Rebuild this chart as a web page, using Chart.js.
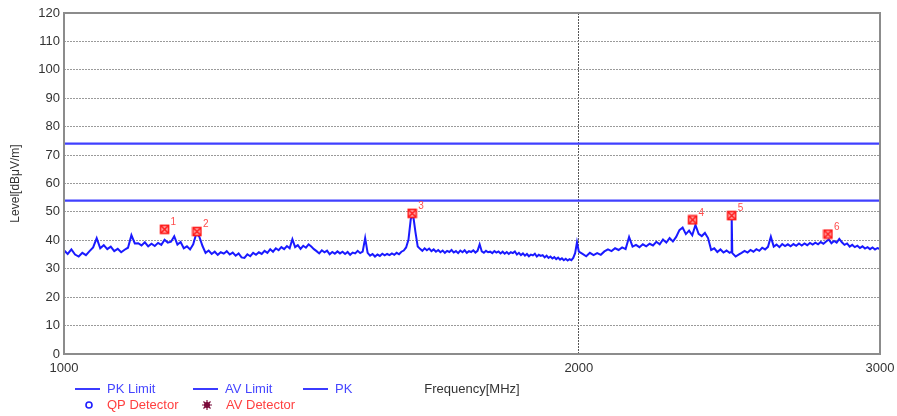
<!DOCTYPE html>
<html lang="en">
<head>
  <meta charset="UTF-8">
  <title>Radiated emission 1-3 GHz</title>
  <script src="https://cdn.jsdelivr.net/npm/chart.js"></script>
  <style>
    body {
      margin: 0;
      padding: 0;
      background-color: #ffffff;
    }

    .wrap {
      width: 897px;
      height: 416px;
      position: relative;
    }
  </style>
</head>
<body>

  <div class="wrap">
    <canvas id="grafico"></canvas>
  </div>

  <script>
    // sweep frequencies (MHz) and peak level (dBuV/m)
    const freqMHz = [
      1000,1005,1010,1015,1020,1025,1030,1035,1040,1045,1050,
      1055,1060,1065,1070,1075,1080,1085,1090,1095,1100,
      1105,1110,1115,1120,1125,1130,1135,1140,1145,1150,
      1155,1160,1165,1170,1175,1180,1185,1190,1195,1200,
      1205,1210,1215,1220,1225,1230,1235,1240,1245,1250,
      1255,1260,1265,1270,1275,1280,1285,1290,1295,1300,
      1305,1310,1315,1320,1325,1330,1335,1340,1345,1350,
      1355,1360,1365,1370,1375,1380,1385,1390,1395,1400,
      1405,1410,1415,1420,1425,1430,1435,1440,1445,1450,
      1455,1460,1465,1470,1475,1480,1485,1490,1495,1500,
      1505,1510,1515,1520,1525,1530,1535,1540,1545,1550,
      1555,1560,1565,1570,1575,1580,1585,1590,1595,1600,
      1605,1610,1615,1620,1625,1630,1635,1640,1645,1650,
      1655,1660,1665,1670,1675,1680,1685,1690,1695,1700,
      1705,1710,1715,1720,1725,1730,1735,1740,1745,1750,
      1755,1760,1765,1770,1775,1780,1785,1790,1795,1800,
      1805,1810,1815,1820,1825,1830,1835,1840,1845,1850,
      1855,1860,1865,1870,1875,1880,1885,1890,1895,1900,
      1905,1910,1915,1920,1925,1930,1935,1940,1945,1950,
      1955,1960,1965,1970,1975,1980,1985,1990,1995,2000,
      2010,2020,2030,2040,2050,2060,2070,2080,2090,2100,
      2110,2120,2130,2140,2150,2160,2170,2180,2190,2200,
      2210,2220,2230,2240,2250,2260,2270,2280,2290,2300,
      2310,2320,2330,2340,2350,2360,2370,2380,2390,2400,
      2410,2420,2430,2440,2450,2455,2457,2459,
      2470,2480,2490,2500,2510,2520,2530,2540,2550,2560,
      2570,2580,2590,2600,2610,2620,2630,2640,2650,2660,
      2670,2680,2690,2700,2710,2720,2730,2740,2750,2760,
      2770,2780,2790,2800,2810,2820,2830,2840,2850,2860,
      2870,2880,2890,2900,2910,2920,2930,2940,2950,2960,
      2970,2980,2990,3000
    ];

    const pkLevel = [
      36.5,35.2,36.8,35.0,34.3,35.6,34.8,36.2,37.5,40.8,37.2,
      38.3,36.9,37.8,36.2,37.0,35.8,36.7,37.4,41.8,38.9,
      39.0,38.2,39.3,37.9,38.8,38.0,39.1,38.4,40.2,39.2,
      39.5,41.4,38.5,39.4,37.2,37.9,36.8,38.6,42.4,41.2,
      38.0,35.6,36.4,35.2,36.0,34.9,35.8,35.3,36.2,35.0,
      35.7,34.6,35.4,34.0,33.8,35.1,34.4,35.6,34.9,35.8,
      35.2,36.3,35.6,36.9,36.0,37.2,36.5,37.6,36.9,38.0,
      37.2,40.4,37.6,38.3,37.0,38.1,37.4,38.6,37.8,36.9,
      36.2,35.4,36.5,35.8,36.4,35.1,35.9,35.3,36.1,35.4,
      36.0,35.2,35.9,34.9,35.7,35.4,36.3,35.5,36.0,40.8,
      35.6,34.6,35.2,34.3,35.0,34.5,35.3,34.7,35.2,34.8,
      35.4,34.9,35.6,35.1,36.0,36.4,37.5,40.2,47.5,49.0,
      43.0,37.8,37.0,36.3,37.2,36.5,37.1,36.2,36.8,36.0,
      36.6,35.8,36.4,35.6,36.3,35.9,36.6,35.7,36.2,35.5,
      36.4,35.8,36.5,35.6,36.2,35.9,36.5,35.7,36.3,38.6,
      36.1,35.6,36.3,35.8,36.0,35.5,36.2,35.7,36.1,35.4,
      36.0,35.3,35.9,35.2,35.8,35.5,36.1,35.0,35.6,34.8,
      35.4,34.6,35.2,34.4,35.0,34.7,35.3,34.3,34.9,34.5,
      34.8,34.0,34.6,33.8,34.3,33.6,34.1,33.4,33.9,33.2,
      33.7,33.0,33.5,32.9,33.4,33.0,33.8,35.5,39.3,36.0,
      35.2,34.4,35.6,34.8,35.5,34.9,36.1,36.8,36.2,37.2,
      36.6,37.5,36.9,41.2,37.8,38.4,37.6,38.6,37.9,38.8,
      38.2,39.5,38.6,40.3,39.2,40.8,39.6,41.2,43.6,44.5,
      42.2,43.4,41.8,45.4,42.3,41.5,42.6,40.8,36.6,37.2,
      35.9,36.8,35.7,36.4,35.6,35.9,48.4,35.5,
      34.3,35.0,35.6,36.3,35.7,36.6,36.0,36.9,36.3,37.4,
      36.8,37.7,41.3,37.8,38.5,37.6,38.7,38.0,38.6,37.9,
      38.7,38.1,38.9,38.2,38.9,38.3,39.1,38.5,39.2,38.6,
      39.4,38.8,39.6,40.3,39.0,39.8,39.2,40.5,39.3,38.4,
      38.9,37.8,38.4,37.6,38.1,37.3,37.9,37.1,37.6,36.9,
      37.5,36.8,37.3,36.9
    ];

    const limitFreq = [1000, 3000];
    const pkLimit = [74, 74];
    const avLimit = [54, 54];

    // final measurement points
    const markerFreq = [1145, 1196, 1598, 2331, 2457, 2797];
    const markerLevel = [43.9, 43.1, 49.5, 47.2, 48.7, 42.2];
    const markerLabel = ["1", "2", "3", "4", "5", "6"];

    const xTicks = [1000, 2000, 3000];
    const yMin = 0, yMax = 120, yStep = 10;

    const fonte = "'Liberation Sans', Arial, sans-serif";

    // little red box with a cross, like the receiver software draws
    const marca = document.createElement("canvas");
    marca.width = 11;
    marca.height = 11;
    (function () {
      const c = marca.getContext("2d");
      c.fillStyle = "#ffb3b3";
      c.fillRect(1, 1, 9, 9);
      c.strokeStyle = "#ff1a1a";
      c.lineWidth = 1.6;
      c.strokeRect(1.5, 1.5, 8, 8);
      c.beginPath();
      c.moveTo(2, 2); c.lineTo(9, 9);
      c.moveTo(9, 2); c.lineTo(2, 9);
      c.stroke();
    })();

    const pares = (xs, ys) => xs.map((x, i) => ({ x: x, y: ys[i] }));

    const extras = {
      id: "extras",
      afterDraw(chart) {
        const ctx = chart.ctx;
        const a = chart.chartArea;
        const sx = chart.scales.x, sy = chart.scales.y;
        ctx.save();

        // frame
        ctx.strokeStyle = "#8c8c8c";
        ctx.lineWidth = 2;
        ctx.strokeRect(a.left, a.top, a.right - a.left, a.bottom - a.top);

        // marker numbers
        ctx.fillStyle = "#ff4d4d";
        ctx.font = "10px " + fonte;
        ctx.textAlign = "left";
        ctx.textBaseline = "middle";
        markerFreq.forEach((f, i) => {
          ctx.fillText(markerLabel[i], sx.getPixelForValue(f) + 6, sy.getPixelForValue(markerLevel[i]) - 7);
        });

        // axis titles
        ctx.fillStyle = "#333";
        ctx.font = "13px " + fonte;
        ctx.textAlign = "center";
        ctx.fillText("Frequency[MHz]", (a.left + a.right) / 2, 389);

        ctx.save();
        ctx.translate(16, (a.top + a.bottom) / 2);
        ctx.rotate(-Math.PI / 2);
        ctx.font = "12px " + fonte;
        ctx.fillText("Level[dBμV/m]", 0, 0);
        ctx.restore();

        // legend, first row
        ctx.textAlign = "left";
        ctx.font = "13px " + fonte;
        ctx.strokeStyle = "#3b3bff";
        ctx.lineWidth = 2;
        [[75, "PK Limit"], [193, "AV Limit"], [303, "PK"]].forEach(([x, t]) => {
          ctx.beginPath();
          ctx.moveTo(x, 389);
          ctx.lineTo(x + 25, 389);
          ctx.stroke();
          ctx.fillStyle = "#4646ff";
          ctx.fillText(t, x + 32, 389);
        });

        // legend, second row
        ctx.strokeStyle = "#1f1fff";
        ctx.lineWidth = 1.6;
        ctx.beginPath();
        ctx.arc(89, 405, 3, 0, Math.PI * 2);
        ctx.stroke();
        ctx.fillStyle = "#ff4040";
        ctx.fillText("QP Detector", 107, 405);

        ctx.fillStyle = "#7a0a3a";
        ctx.strokeStyle = "#7a0a3a";
        ctx.lineWidth = 1.2;
        ctx.beginPath();
        ctx.arc(207, 405, 3, 0, Math.PI * 2);
        ctx.fill();
        ctx.beginPath();
        for (let k = 0; k < 8; k++) {
          const ang = k * Math.PI / 4;
          ctx.moveTo(207, 405);
          ctx.lineTo(207 + 5 * Math.cos(ang), 405 + 5 * Math.sin(ang));
        }
        ctx.stroke();
        ctx.fillStyle = "#ff4040";
        ctx.fillText("AV Detector", 226, 405);

        ctx.restore();
      }
    };

    new Chart(document.getElementById("grafico"), {
      type: "line",
      data: {
        datasets: [
          {
            label: "AV Detector",
            data: pares(markerFreq, markerLevel),
            showLine: false,
            pointStyle: marca,
            pointRadius: 5,
            order: 0
          },
          {
            label: "PK Limit",
            data: pares(limitFreq, pkLimit),
            borderColor: "#4040ff",
            borderWidth: 2.2,
            pointRadius: 0,
            order: 2
          },
          {
            label: "AV Limit",
            data: pares(limitFreq, avLimit),
            borderColor: "#4040ff",
            borderWidth: 2.2,
            pointRadius: 0,
            order: 2
          },
          {
            label: "PK",
            data: pares(freqMHz, pkLevel),
            borderColor: "#1a1aff",
            borderWidth: 2,
            pointRadius: 0,
            tension: 0,
            order: 1
          }
        ]
      },
      options: {
        responsive: true,
        maintainAspectRatio: false,
        animation: false,
        layout: { padding: { top: 13, right: 17, left: 0, bottom: 0 } },
        plugins: {
          legend: { display: false },
          tooltip: { enabled: false }
        },
        scales: {
          x: {
            type: "logarithmic",
            min: 1000,
            max: 3000,
            afterBuildTicks: s => { s.ticks = xTicks.map(v => ({ value: v })); },
            afterFit: s => {
              s.height = 62;
              s.paddingLeft = 0;
              s.paddingRight = 0;
            },
            ticks: {
              autoSkip: false,
              maxRotation: 0,
              padding: 7,
              color: "#333",
              font: { family: fonte, size: 13 },
              callback: v => String(v)
            },
            grid: {
              drawTicks: false,
              color: c => (c.tick && c.tick.value === 2000) ? "#555" : "rgba(0,0,0,0)",
              lineWidth: 1
            },
            border: { display: false, dash: [2, 1] }
          },
          y: {
            min: yMin,
            max: yMax,
            afterFit: s => { s.width = 64; },
            ticks: {
              stepSize: yStep,
              padding: 4,
              color: "#333",
              font: { family: fonte, size: 13 }
            },
            grid: {
              drawTicks: false,
              color: "#9a9a9a",
              lineWidth: 1
            },
            border: { display: false, dash: [2, 1] }
          }
        }
      },
      plugins: [extras]
    });
  </script>

</body>
</html>
